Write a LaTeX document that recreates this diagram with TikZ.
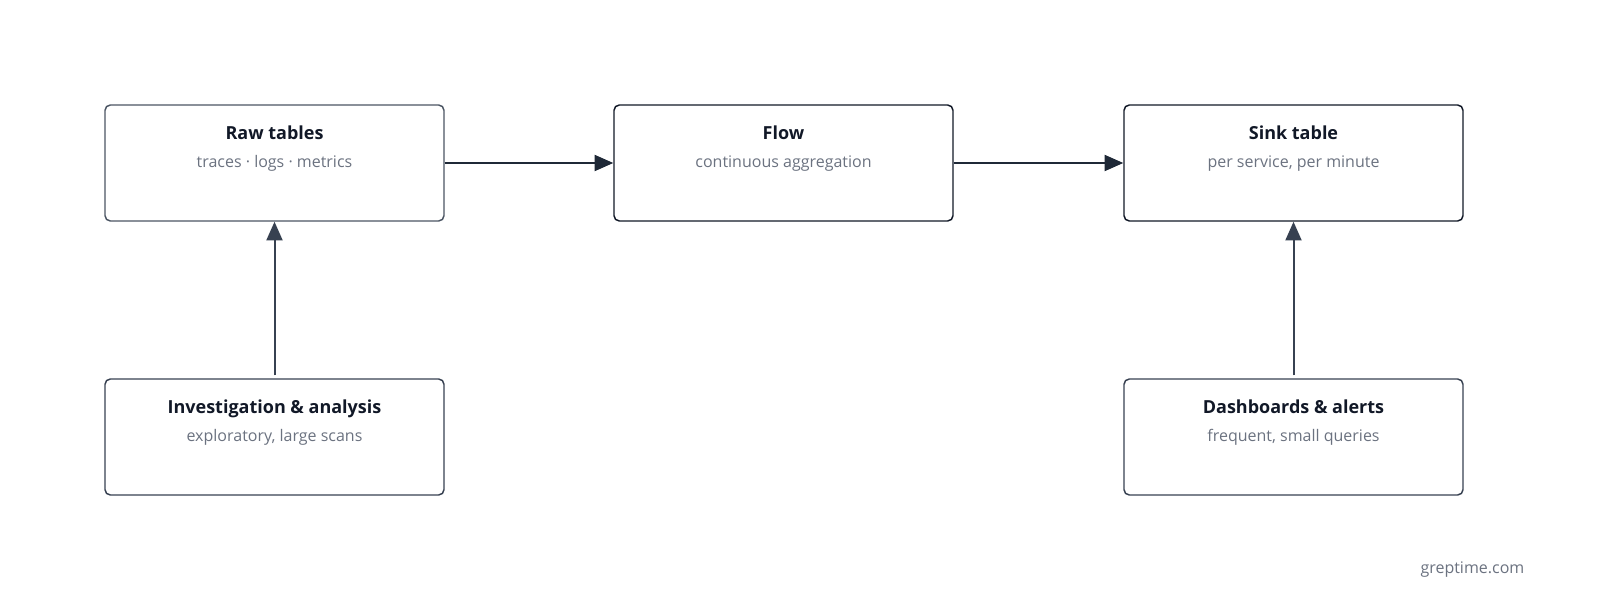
\documentclass[tikz,border=0pt]{standalone}
\usepackage{fontspec}
\setmainfont{Open Sans}
\usetikzlibrary{arrows.meta}
\definecolor{ink}{HTML}{111827}
\definecolor{sub}{HTML}{6B7280}
\definecolor{edgeA}{HTML}{4B5563}
\definecolor{arr}{HTML}{1F2937}
\definecolor{arrv}{HTML}{374151}
\begin{document}
\begin{tikzpicture}[x=0.75pt,y=-0.75pt,
  box/.style={draw=#1,line width=1.1pt,rounded corners=4pt,minimum width=339*0.75pt,minimum height=116*0.75pt,inner sep=0pt},
  ttl/.style={font=\fontsize{13.5}{16}\selectfont\bfseries,text=ink,text depth=0pt,anchor=base},
  stl/.style={font=\fontsize{12}{14}\selectfont,text=sub,text depth=0pt,anchor=base},
  ar/.style={draw=#1,line width=1.5pt,-{Triangle[length=14pt,width=12pt]}}]
\useasboundingbox (0,0) rectangle (1600,613);
\node[box=edgeA] (raw) at (274.5,163) {};
\node[box=ink] (flow) at (783.5,163) {};
\node[box=ink] (sink) at (1293.5,163) {};
\node[box=arrv] (inv) at (274.5,437) {};
\node[box=arrv] (dash) at (1293.5,437) {};
\foreach \n/\tt/\ss in {raw/Raw tables/traces · logs · metrics, flow/Flow/continuous aggregation, sink/Sink table/{per service, per minute}, inv/Investigation \& analysis/{exploratory, large scans}, dash/Dashboards \& alerts/{frequent, small queries}}{
  \node[ttl] (\n-t) at ([yshift=-35*0.75pt]\n.north) {\tt};
  \node[stl] (\n-s) at ([yshift=-63*0.75pt]\n.north) {\ss};
}
\draw[ar=arr] (raw.east) -- (flow.west);
\draw[ar=arr] (flow.east) -- (sink.west);
\draw[ar=arrv] ([yshift=3*0.75pt]inv.north) -- (raw.south);
\draw[ar=arrv] ([yshift=3*0.75pt]dash.north) -- (sink.south);
\node[stl,anchor=base east] (logo) at (1529,573) {greptime.com};
\end{tikzpicture}
\end{document}
